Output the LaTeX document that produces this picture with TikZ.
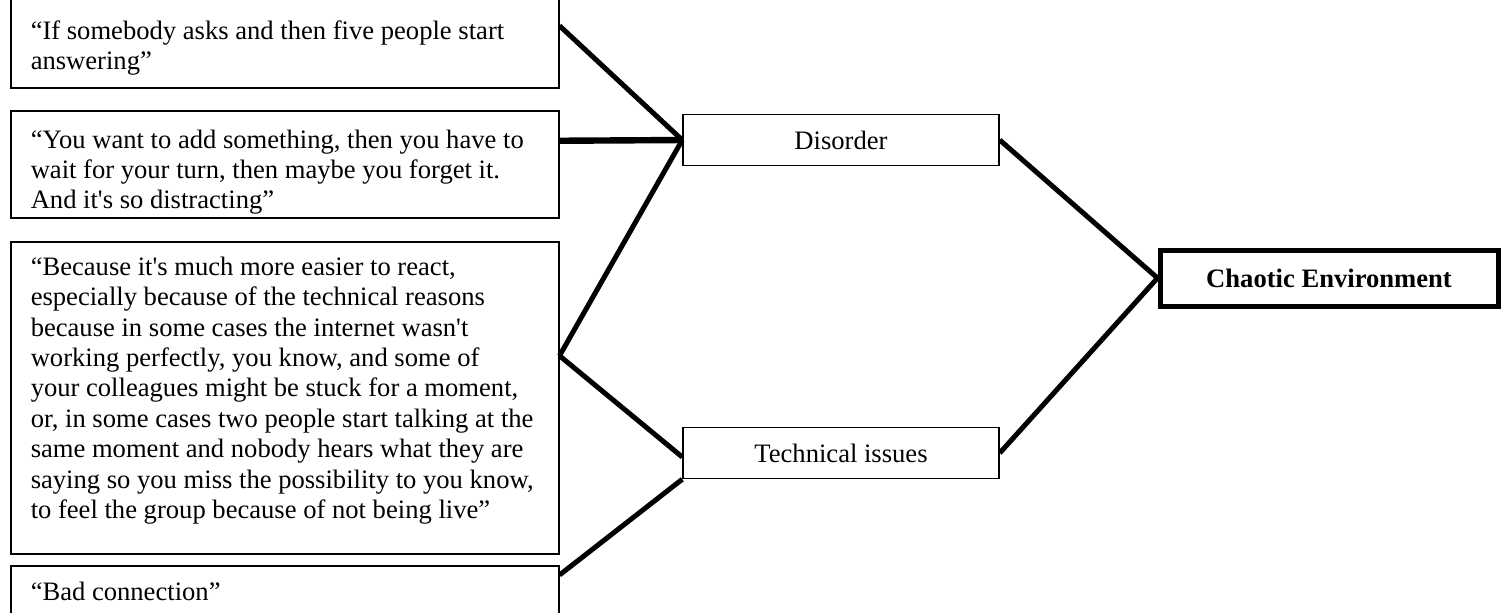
\documentclass[tikz,border=0pt]{standalone}
\usepackage{fontspec}
\setmainfont{Liberation Serif}
\newcommand{\qap}{\textquotesingle}
% quote box body: #1 height, #2 space above first line, #3 text
\newcommand{\quotebody}[3]{\parbox[c][#1][t]{274pt}{\raggedright\leftskip=10pt\vspace*{#2}\strut #3}}
\begin{document}
\begin{tikzpicture}[x=0.5pt,y=-0.5pt,
  every node/.style={font=\fontsize{13.3}{15}\selectfont},
  quote/.style={draw, line width=0.75pt, anchor=north west, inner sep=0pt},
  theme/.style={draw, line width=0.75pt, minimum width=158pt, minimum height=25.5pt, inner sep=0pt},
  core/.style={draw, line width=2.5pt, minimum width=169pt, minimum height=28pt, inner sep=0pt,
    font=\fontsize{13.3}{15}\selectfont\bfseries},
  link/.style={line width=2.5pt},
  heavylink/.style={line width=3.2pt}]
\clip (0,0) rectangle (1507,612);

% quotes
\node[quote] (q1) at (10,-10) {\quotebody{48.5pt}{14pt}{“If somebody asks and then five people start\\answering”}};
\node[quote] (q2) at (10,110) {\quotebody{53.5pt}{8.5pt}{“You want to add something, then you have to\\wait for your turn, then maybe you forget it.\\And it\qap s so distracting”}};
\node[quote] (q3) at (10,241) {\quotebody{156pt}{6.3pt}{\fontsize{13.3}{15.2}\selectfont
  “Because it\qap s much more easier to react,\\
  especially because of the technical reasons\\
  because in some cases the internet wasn\qap t\\
  working perfectly, you know, and some of\\
  your colleagues might be stuck for a moment,\\
  or, in some cases two people start talking at the\\
  same moment and nobody hears what they are\\
  saying so you miss the possibility to you know,\\
  to feel the group because of not being live”}};
\node[quote] (q4) at (10,565) {\quotebody{30pt}{7pt}{“Bad connection”}};

% themes
\node[theme] (dis) at (841,140) {Disorder};
\node[theme] (tech) at (841,453) {Technical issues};
\node[core] (chaos) at (1329,278) {Chaotic Environment};

% links
\draw[link] ([yshift=6.75pt]q1.east) -- (dis.west);
\draw[heavylink] ([yshift=11.75pt]q2.east) -- (dis.west);
\draw[link] ([yshift=21pt]q3.east) -- (dis.west);
\draw[link] ([yshift=21pt]q3.east) -- ([yshift=-2pt]tech.west);
\draw[link] ([yshift=-5pt]q4.north east) -- (tech.south west);
\draw[link] (dis.east) -- (chaos.west);
\draw[link] (tech.east) -- (chaos.west);
\end{tikzpicture}
\end{document}
